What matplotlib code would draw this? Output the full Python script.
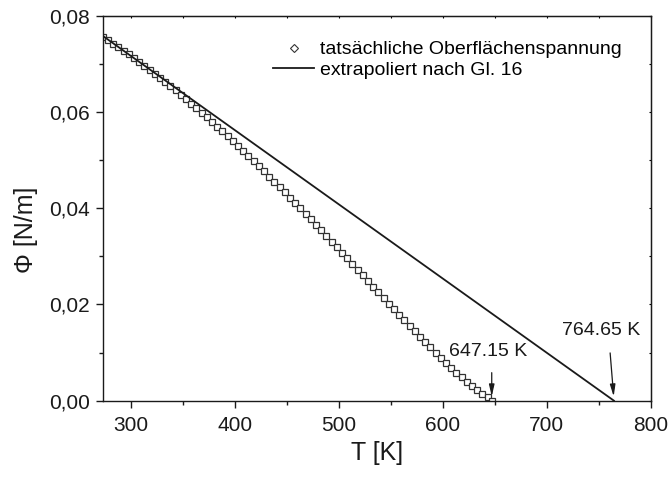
import matplotlib
matplotlib.use("Agg")
import matplotlib.pyplot as plt
from matplotlib.lines import Line2D
from matplotlib.ticker import MultipleLocator, FuncFormatter

plt.rcParams['font.family'] = ['Liberation Sans', 'DejaVu Sans']

# surface tension of water, 5 K steps up to the critical point
T = [273.15, 278.15, 283.15, 288.15, 293.15, 298.15, 303.15, 308.15, 313.15, 318.15,
     323.15, 328.15, 333.15, 338.15, 343.15, 348.15, 353.15, 358.15, 363.15, 368.15,
     373.15, 378.15, 383.15, 388.15, 393.15, 398.15, 403.15, 408.15, 413.15, 418.15,
     423.15, 428.15, 433.15, 438.15, 443.15, 448.15, 453.15, 458.15, 463.15, 468.15,
     473.15, 478.15, 483.15, 488.15, 493.15, 498.15, 503.15, 508.15, 513.15, 518.15,
     523.15, 528.15, 533.15, 538.15, 543.15, 548.15, 553.15, 558.15, 563.15, 568.15,
     573.15, 578.15, 583.15, 588.15, 593.15, 598.15, 603.15, 608.15, 613.15, 618.15,
     623.15, 628.15, 633.15, 638.15, 643.15, 647.15]
phi = [0.07565, 0.07494, 0.07422, 0.07349, 0.07274, 0.07197, 0.07119, 0.07040, 0.06960, 0.06878,
       0.06794, 0.06710, 0.06624, 0.06537, 0.06448, 0.06358, 0.06267, 0.06175, 0.06082, 0.05987,
       0.05891, 0.05794, 0.05696, 0.05597, 0.05496, 0.05395, 0.05293, 0.05190, 0.05085, 0.04980,
       0.04874, 0.04767, 0.04658, 0.04550, 0.04440, 0.04330, 0.04219, 0.04107, 0.03994, 0.03881,
       0.03767, 0.03653, 0.03538, 0.03423, 0.03307, 0.03191, 0.03074, 0.02957, 0.02839, 0.02722,
       0.02604, 0.02487, 0.02369, 0.02252, 0.02134, 0.02017, 0.01900, 0.01784, 0.01669, 0.01554,
       0.01440, 0.01327, 0.01216, 0.01106, 0.00998, 0.00891, 0.00787, 0.00685, 0.00585, 0.00489,
       0.00397, 0.00309, 0.00225, 0.00149, 0.00080, 0.00000]

# linear extrapolation (Gl. 16)
T_lin = [273.15, 764.65]
phi_lin = [0.0758, 0.0]

labels = ['tatsächliche Oberflächenspannung', 'extrapoliert nach Gl. 16']
T_crit = [647.15, 764.65]
crit_labels = ['647.15 K', '764.65 K']

fig = plt.figure(figsize=(6.69, 4.79), dpi=100)
ax = fig.add_axes([0.1535, 0.1635, 0.8191, 0.8037])

ink = '#1a1a1a'
ax.plot(T, phi, ls='none', marker='s', ms=4.0, mfc='white', mec='#333333', mew=0.9)
ax.plot(T_lin, phi_lin, color=ink, lw=1.3)

ax.set_xlim(273, 800)
ax.set_ylim(0, 0.08)
ax.xaxis.set_major_locator(MultipleLocator(100))
ax.xaxis.set_minor_locator(MultipleLocator(50))
ax.yaxis.set_major_locator(MultipleLocator(0.02))
ax.yaxis.set_minor_locator(MultipleLocator(0.01))
ax.yaxis.set_major_formatter(FuncFormatter(lambda v, p: f"{v:.2f}".replace('.', ',')))

for s in ax.spines.values():
    s.set_linewidth(1.0)
    s.set_color(ink)
ax.tick_params(which='major', direction='out', length=5, width=1.0, color=ink,
               labelsize=15, labelcolor=ink)
ax.tick_params(which='minor', direction='out', length=3, width=1.0, color=ink)
ax.tick_params(axis='x', which='major', pad=6)
ax.tick_params(axis='y', which='major', pad=4)

# tiny inward ticks on the top and right
ax2 = ax.secondary_xaxis('top')
ax2.xaxis.set_major_locator(MultipleLocator(100))
ax2.xaxis.set_minor_locator(MultipleLocator(50))
ax2.tick_params(which='both', direction='in', length=1.5, width=0.8, labeltop=False)
ay2 = ax.secondary_yaxis('right')
ay2.yaxis.set_major_locator(MultipleLocator(0.02))
ay2.yaxis.set_minor_locator(MultipleLocator(0.01))
ay2.tick_params(which='both', direction='in', length=1.5, width=0.8, labelright=False)

ax.set_xlabel('T [K]', fontsize=18, color=ink)
fig.text(0.039, 0.52, 'Φ [N/m]', rotation=90, fontsize=18, color=ink,
         ha='center', va='center')

handles = [Line2D([], [], ls='none', marker='D', ms=3.8, mfc='white', mec='#333333', mew=0.8),
           Line2D([], [], color=ink, lw=1.3)]
ax.legend(handles, labels, loc='upper left', bbox_to_anchor=(0.311, 0.935), frameon=False,
          fontsize=14, handlelength=2.1, handletextpad=0.3, labelspacing=0.15,
          borderpad=0, borderaxespad=0)

# critical temperatures
ax.text(643.5, 0.0103, crit_labels[0], fontsize=14, ha='center', va='center', color=ink)
ax.annotate('', xy=(T_crit[0], 0.0003), xytext=(T_crit[0], 0.0064),
            arrowprops=dict(arrowstyle='-|>,head_length=0.7,head_width=0.16',
                            color=ink, lw=0.9, mutation_scale=10))
ax.text(752, 0.0145, crit_labels[1], fontsize=14, ha='center', va='center', color=ink)
ax.annotate('', xy=(T_crit[1], 0.0003), xytext=(760.8, 0.0105),
            arrowprops=dict(arrowstyle='-|>,head_length=0.7,head_width=0.16',
                            color=ink, lw=0.9, mutation_scale=10))

fig.savefig('out.png', dpi=100)
